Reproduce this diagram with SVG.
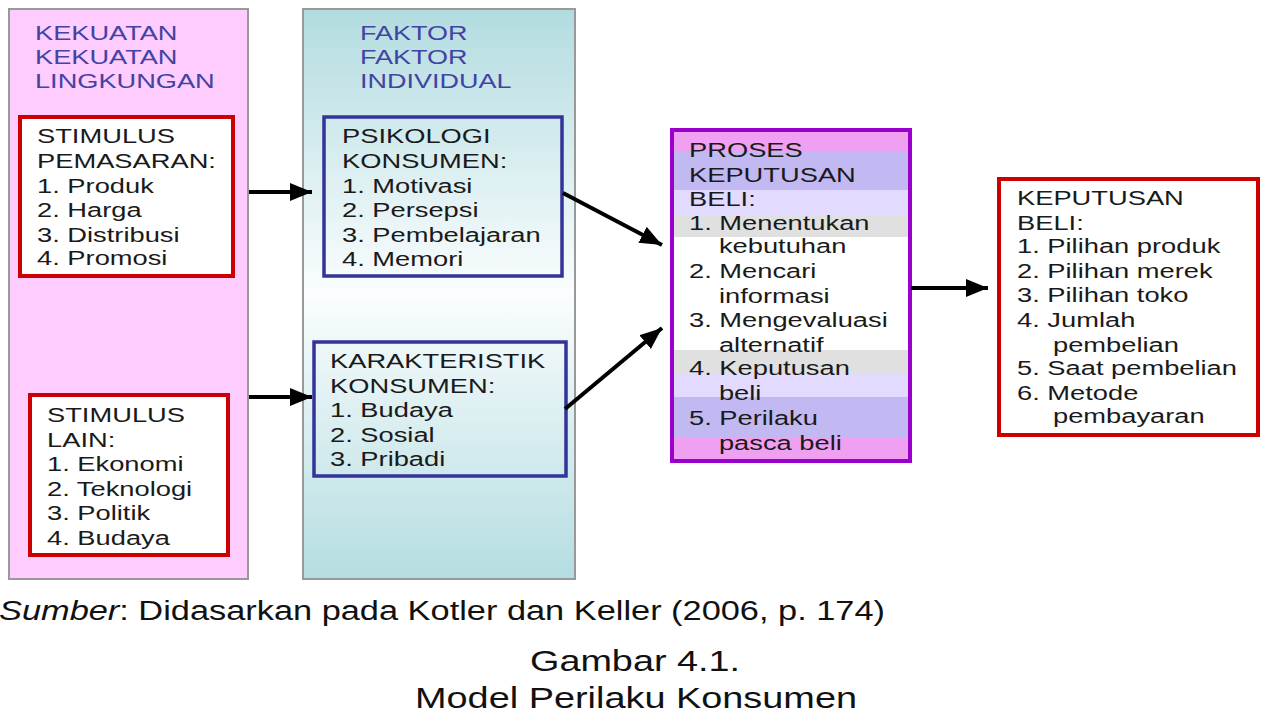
<svg xmlns="http://www.w3.org/2000/svg" width="1280" height="720" viewBox="0 0 1280 720">
<defs>
<linearGradient id="teal" x1="0" y1="0" x2="0" y2="1">
<stop offset="0" stop-color="#b2dce0"/>
<stop offset="0.5" stop-color="#fbfdfe"/>
<stop offset="1" stop-color="#b4dde1"/>
</linearGradient>
<marker id="ah" markerUnits="userSpaceOnUse" markerWidth="24" markerHeight="20" refX="22" refY="9" orient="auto">
<path d="M0,0 L22,9 L0,18 Z" fill="#000"/>
</marker>
<style>
.t{font-family:"Liberation Sans",Arial,sans-serif;font-size:21px;fill:#1a1a1a}
.h{font-family:"Liberation Sans",Arial,sans-serif;font-size:20px;fill:#4343a3}
.cap{font-family:"Liberation Sans",Arial,sans-serif;fill:#111}
.red{fill:#fff;stroke:#cc0000;stroke-width:4}
.blue{fill:none;stroke:#333399;stroke-width:3.5}
.conn{stroke:#000;stroke-width:4;fill:none;marker-end:url(#ah)}
</style>
</defs>
<rect width="1280" height="720" fill="#fff"/>

<g id="panel-lingkungan">
<rect x="9" y="9" width="239" height="570" fill="#ffccff" stroke="#999" stroke-width="2"/>
<g transform="translate(35,0) scale(1.36,1)">
<text class="h" x="0" y="40">KEKUATAN</text>
<text class="h" x="0" y="64">KEKUATAN</text>
<text class="h" x="0" y="88">LINGKUNGAN</text>
</g>
</g>

<g id="stimulus-pemasaran">
<rect class="red" x="20" y="117" width="213" height="159"/>
<g transform="translate(37,0) scale(1.3,1)">
<text class="t" x="0" y="143">STIMULUS</text>
<text class="t" x="0" y="168">PEMASARAN:</text>
<text class="t" x="0" y="193">1. Produk</text>
<text class="t" x="0" y="217">2. Harga</text>
<text class="t" x="0" y="242">3. Distribusi</text>
<text class="t" x="0" y="265">4. Promosi</text>
</g>
</g>

<g id="stimulus-lain">
<rect class="red" x="30" y="395" width="198" height="160"/>
<g transform="translate(47,0) scale(1.3,1)">
<text class="t" x="0" y="422">STIMULUS</text>
<text class="t" x="0" y="447">LAIN:</text>
<text class="t" x="0" y="471">1. Ekonomi</text>
<text class="t" x="0" y="496">2. Teknologi</text>
<text class="t" x="0" y="520">3. Politik</text>
<text class="t" x="0" y="545">4. Budaya</text>
</g>
</g>

<g id="panel-individual">
<rect x="303" y="9" width="272" height="570" fill="url(#teal)" stroke="#999" stroke-width="2"/>
<g transform="translate(360,0) scale(1.35,1)">
<text class="h" x="0" y="40">FAKTOR</text>
<text class="h" x="0" y="64">FAKTOR</text>
<text class="h" x="0" y="88">INDIVIDUAL</text>
</g>
</g>

<g id="psikologi">
<rect class="blue" x="324" y="117" width="238" height="159"/>
<g transform="translate(342,0) scale(1.3,1)">
<text class="t" x="0" y="143">PSIKOLOGI</text>
<text class="t" x="0" y="168">KONSUMEN:</text>
<text class="t" x="0" y="193">1. Motivasi</text>
<text class="t" x="0" y="217">2. Persepsi</text>
<text class="t" x="0" y="242">3. Pembelajaran</text>
<text class="t" x="0" y="266">4. Memori</text>
</g>
</g>

<g id="karakteristik">
<rect class="blue" x="314" y="342" width="252" height="134"/>
<g transform="translate(330,0) scale(1.3,1)">
<text class="t" x="0" y="368">KARAKTERISTIK</text>
<text class="t" x="0" y="393">KONSUMEN:</text>
<text class="t" x="0" y="417">1. Budaya</text>
<text class="t" x="0" y="442">2. Sosial</text>
<text class="t" x="0" y="466">3. Pribadi</text>
</g>
</g>

<g id="proses">
<rect x="672" y="132" width="238" height="20" fill="#f0a0f0"/>
<rect x="672" y="152" width="238" height="38" fill="#c2b8f2"/>
<rect x="672" y="190" width="238" height="26" fill="#e2daff"/>
<rect x="672" y="216" width="238" height="21" fill="#e0e0e0"/>
<rect x="672" y="237" width="238" height="113" fill="#fff"/>
<rect x="672" y="350" width="238" height="23" fill="#e0e0e0"/>
<rect x="672" y="373" width="238" height="24" fill="#e2daff"/>
<rect x="672" y="397" width="238" height="41" fill="#c2b8f2"/>
<rect x="672" y="438" width="238" height="23" fill="#f0a0f0"/>
<rect x="672" y="130" width="238" height="331" fill="none" stroke="#9900cc" stroke-width="4"/>
<g transform="translate(689,0) scale(1.3,1)">
<text class="t" x="0" y="157">PROSES</text>
<text class="t" x="0" y="182">KEPUTUSAN</text>
<text class="t" x="0" y="206">BELI:</text>
<text class="t" x="0" y="230">1. Menentukan</text>
<text class="t" x="23" y="253">kebutuhan</text>
<text class="t" x="0" y="278">2. Mencari</text>
<text class="t" x="23" y="303">informasi</text>
<text class="t" x="0" y="327">3. Mengevaluasi</text>
<text class="t" x="23" y="352">alternatif</text>
<text class="t" x="0" y="375">4. Keputusan</text>
<text class="t" x="23" y="400">beli</text>
<text class="t" x="0" y="425">5. Perilaku</text>
<text class="t" x="23" y="450">pasca beli</text>
</g>
</g>

<g id="keputusan">
<rect class="red" x="999" y="179" width="259" height="256"/>
<g transform="translate(1017,0) scale(1.3,1)">
<text class="t" x="0" y="205">KEPUTUSAN</text>
<text class="t" x="0" y="230">BELI:</text>
<text class="t" x="0" y="253">1. Pilihan produk</text>
<text class="t" x="0" y="278">2. Pilihan merek</text>
<text class="t" x="0" y="302">3. Pilihan toko</text>
<text class="t" x="0" y="327">4. Jumlah</text>
<text class="t" x="27.7" y="352">pembelian</text>
<text class="t" x="0" y="375">5. Saat pembelian</text>
<text class="t" x="0" y="400">6. Metode</text>
<text class="t" x="27.7" y="423">pembayaran</text>
</g>
</g>

<g id="connectors">
<line class="conn" x1="249" y1="192" x2="312" y2="192"/>
<line class="conn" x1="249" y1="397" x2="312" y2="397"/>
<line class="conn" x1="563" y1="193" x2="662" y2="245"/>
<line class="conn" x1="565" y1="409" x2="662" y2="328"/>
<line class="conn" x1="911" y1="288" x2="988" y2="288"/>
</g>

<g id="caption">
<text class="cap" x="-1" y="620" font-size="27" textLength="886" lengthAdjust="spacingAndGlyphs"><tspan font-style="italic">Sumber</tspan>: Didasarkan pada Kotler dan Keller (2006, p. 174)</text>
<text class="cap" x="530" y="671" font-size="30" textLength="210" lengthAdjust="spacingAndGlyphs">Gambar 4.1.</text>
<text class="cap" x="415" y="708" font-size="30" textLength="442" lengthAdjust="spacingAndGlyphs">Model Perilaku Konsumen</text>
</g>
</svg>
